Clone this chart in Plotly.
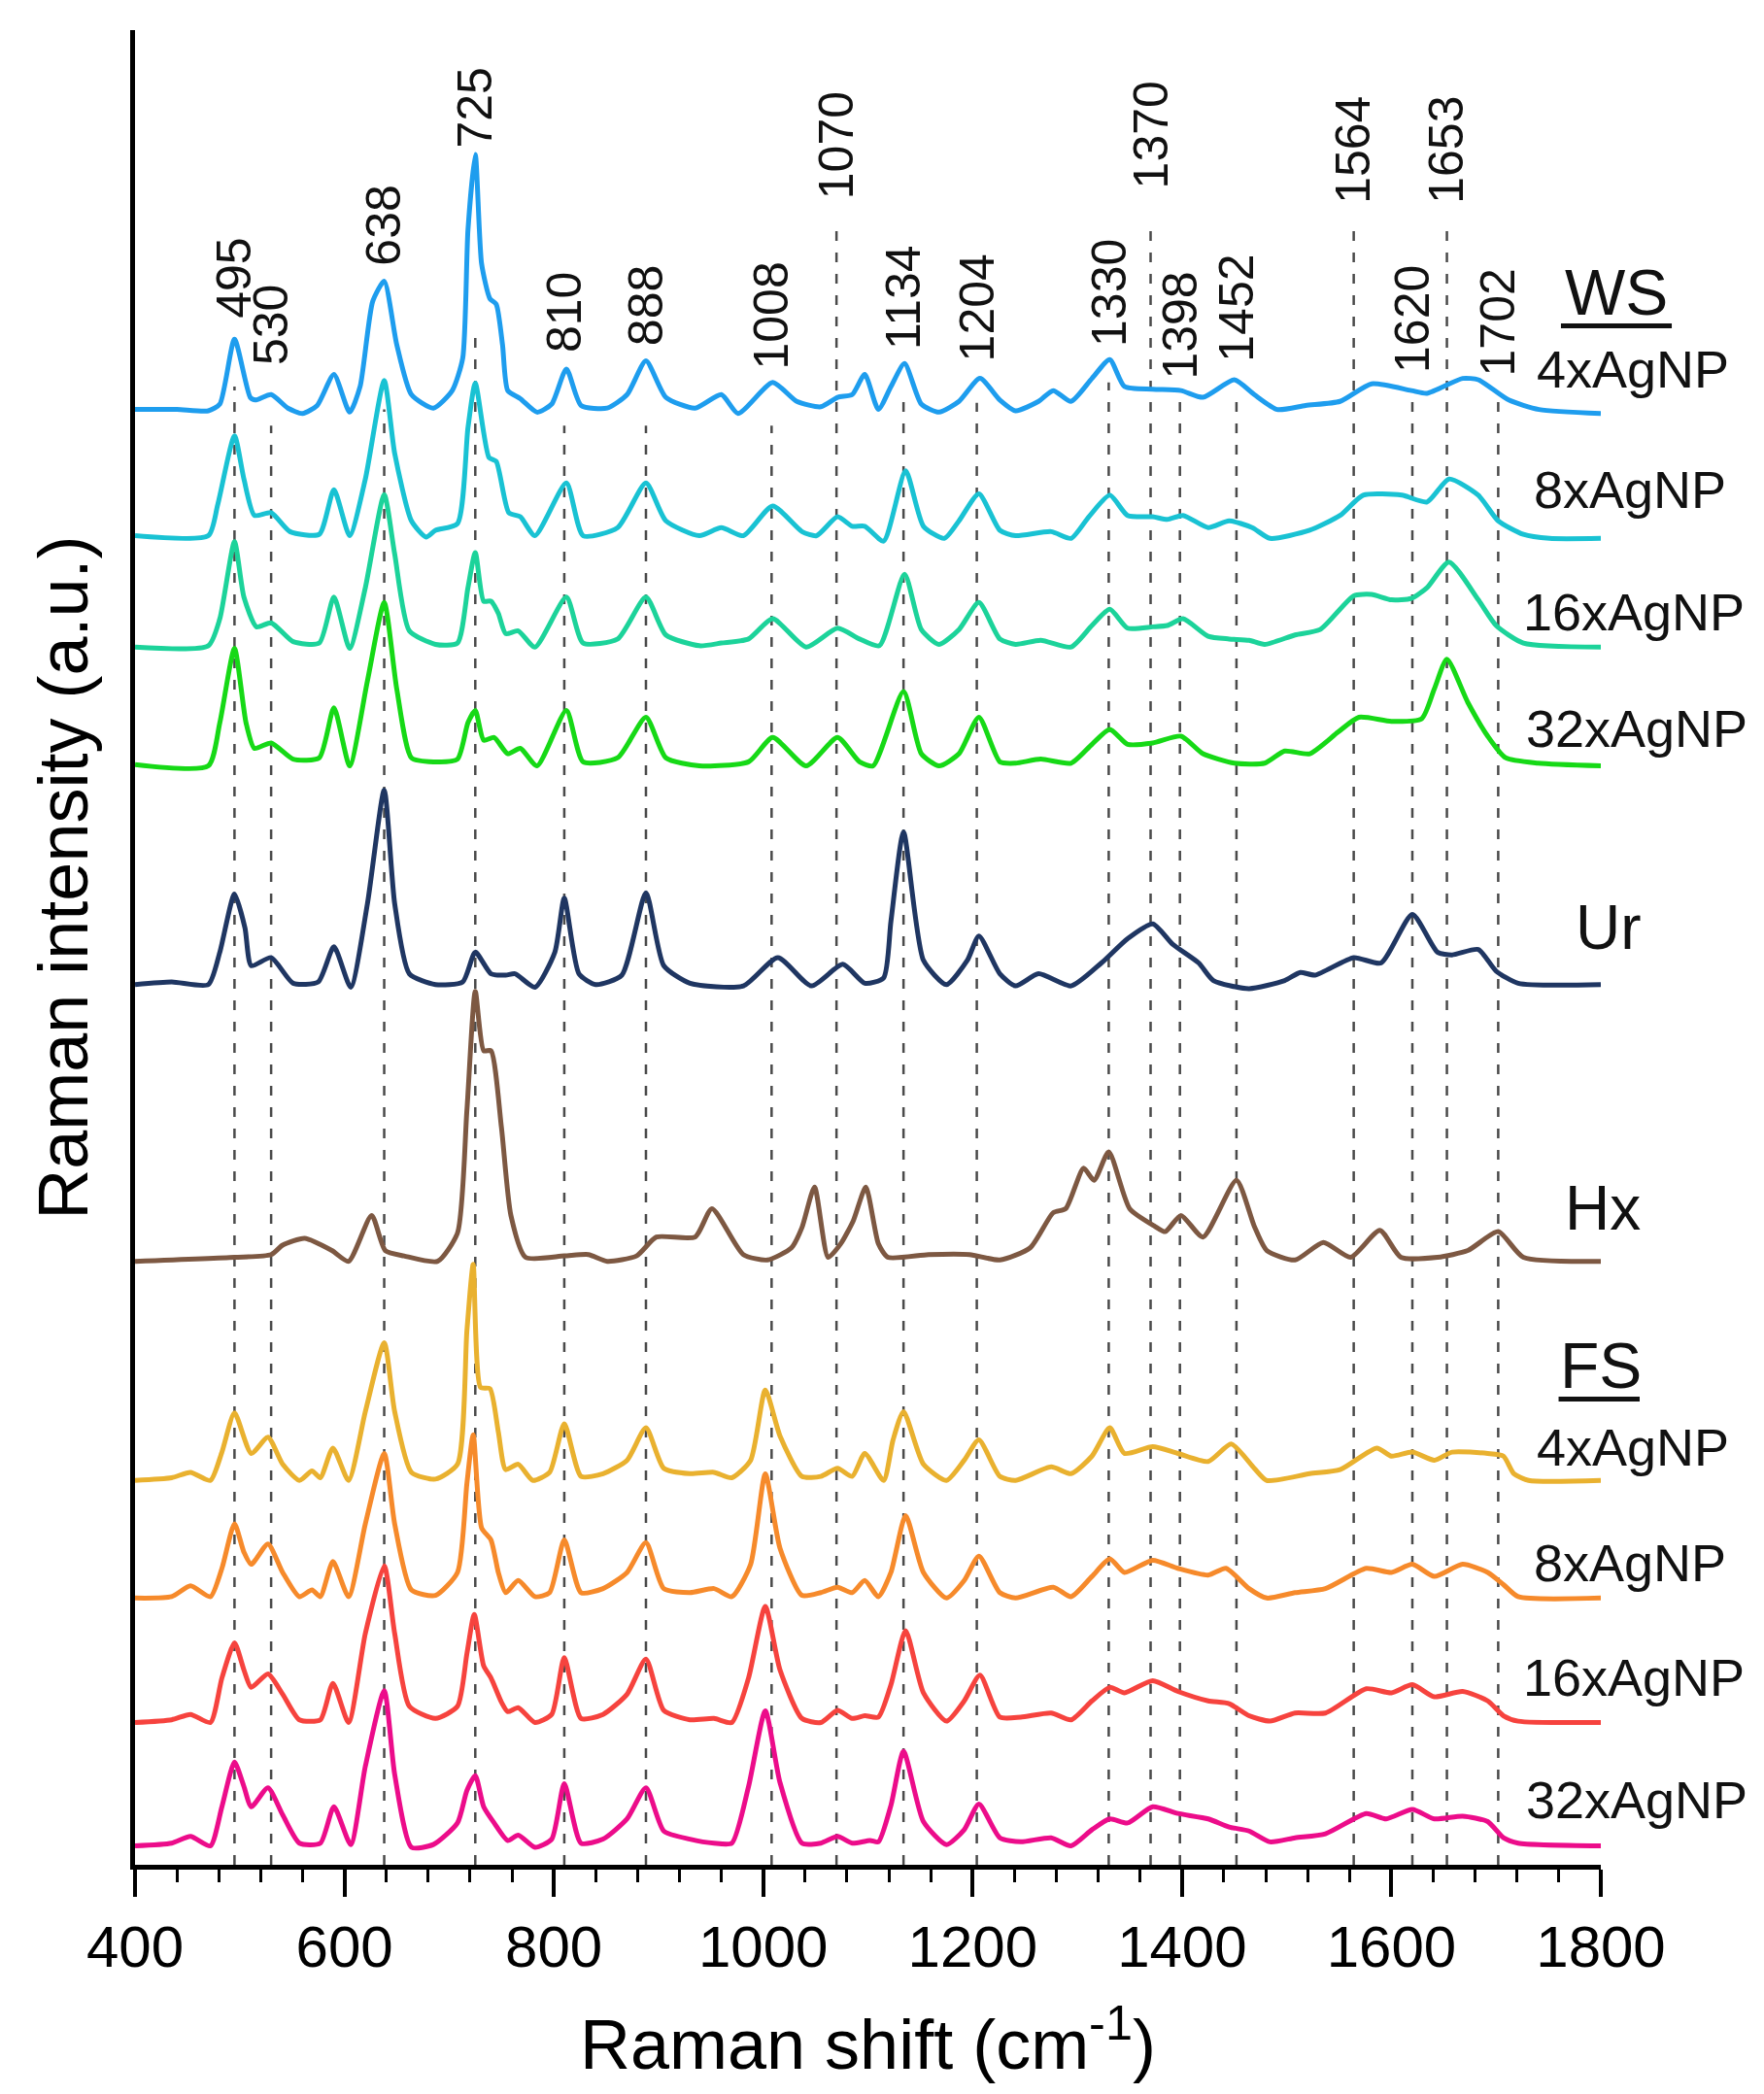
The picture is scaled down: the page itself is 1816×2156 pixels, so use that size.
import plotly.graph_objects as go

# ---- data (heights above each spectrum's own baseline, a.u.) ----
ws4_x = [400, 440, 470, 481, 495, 510, 515, 530, 546, 560, 574, 590, 605, 615, 627, 638, 650, 664, 685, 703, 713, 718, 725, 731, 739, 745, 751, 756, 768, 784, 798, 812, 826, 851, 870, 888, 907, 935, 960, 976, 1009, 1032, 1055, 1071, 1085, 1097, 1110, 1122, 1135, 1151, 1168, 1187, 1207, 1226, 1241, 1263, 1277, 1294, 1314, 1331, 1345, 1372, 1399, 1420, 1450, 1469, 1491, 1518, 1551, 1581, 1619, 1634, 1668, 1683, 1712, 1741, 1800]
ws4_y = [2, 2, 1, 6, 54, 11, 9, 13, 3, -1, 5, 28, 0, 19, 82, 97, 50, 13, 3, 16, 40, 135, 191, 110, 84, 80, 50, 16, 10, 0, 6, 32, 5, 3, 13, 38, 11, 3, 13, -1, 22, 8, 4, 11, 13, 28, 2, 19, 36, 6, 0, 8, 25, 9, 1, 8, 16, 8, 25, 39, 19, 17, 16, 11, 24, 13, 2, 5, 8, 21, 16, 14, 25, 24, 9, 2, -1]

ws8_x = [400, 470, 479, 495, 504, 514, 530, 548, 576, 590, 605, 620, 638, 648, 664, 678, 687, 708, 718, 725, 738, 745, 757, 768, 782, 812, 828, 861, 888, 907, 939, 960, 981, 1009, 1037, 1051, 1071, 1085, 1097, 1115, 1136, 1153, 1173, 1187, 1206, 1226, 1241, 1275, 1294, 1311, 1331, 1348, 1372, 1386, 1401, 1425, 1445, 1467, 1484, 1522, 1551, 1573, 1610, 1634, 1655, 1683, 1702, 1726, 1751, 1800]
ws8_y = [2, 2, 25, 76, 44, 17, 19, 5, 3, 36, 2, 44, 117, 63, 13, 1, 6, 11, 82, 115, 60, 57, 19, 16, 2, 41, 2, 8, 41, 13, 2, 8, 2, 24, 5, 2, 16, 9, 9, -2, 50, 9, 0, 13, 33, 6, 2, 5, 0, 16, 32, 17, 16, 14, 17, 8, 13, 8, 0, 6, 17, 32, 32, 27, 44, 32, 13, 3, 0, 0]

ws16_x = [400, 470, 481, 495, 504, 516, 530, 551, 576, 590, 605, 620, 638, 648, 662, 687, 708, 718, 725, 733, 740, 747, 754, 766, 782, 812, 828, 861, 888, 907, 939, 960, 986, 1009, 1041, 1071, 1092, 1111, 1135, 1151, 1168, 1187, 1206, 1226, 1241, 1265, 1294, 1314, 1331, 1348, 1372, 1386, 1401, 1425, 1445, 1464, 1479, 1508, 1532, 1564, 1581, 1600, 1619, 1634, 1655, 1683, 1700, 1726, 1800]
ws16_y = [0, 1, 21, 78, 37, 15, 18, 4, 3, 37, -1, 44, 113, 69, 12, 2, 3, 44, 70, 34, 34, 25, 10, 12, 0, 37, 3, 6, 37, 9, 1, 3, 6, 21, 0, 14, 6, 1, 54, 13, 2, 13, 33, 6, 2, 5, 0, 16, 28, 14, 15, 16, 21, 8, 6, 5, 2, 9, 13, 38, 39, 35, 36, 44, 63, 35, 16, 3, 0]

ws32_x = [400, 470, 481, 495, 506, 514, 530, 551, 576, 590, 605, 622, 638, 650, 664, 685, 708, 718, 725, 733, 743, 756, 768, 784, 812, 828, 861, 888, 907, 939, 986, 1009, 1041, 1071, 1092, 1105, 1134, 1151, 1168, 1187, 1206, 1226, 1241, 1265, 1294, 1314, 1331, 1348, 1372, 1399, 1420, 1450, 1479, 1498, 1522, 1549, 1569, 1600, 1629, 1641, 1653, 1673, 1692, 1709, 1740, 1800]
ws32_y = [1, 0, 32, 87, 32, 13, 17, 5, 6, 43, 0, 63, 121, 57, 6, 3, 5, 32, 41, 19, 21, 9, 13, 0, 41, 3, 6, 36, 6, 0, 3, 21, 0, 21, 3, 0, 55, 9, 0, 9, 36, 3, 2, 5, 2, 16, 27, 16, 17, 22, 9, 2, 2, 11, 9, 25, 36, 33, 35, 57, 79, 47, 22, 6, 2, 0]

ur_x = [400, 435, 470, 481, 495, 505, 511, 530, 551, 575, 590, 606, 622, 638, 648, 662, 687, 713, 725, 740, 754, 763, 782, 801, 810, 824, 840, 865, 888, 905, 930, 981, 1014, 1046, 1076, 1097, 1115, 1122, 1134, 1153, 1175, 1195, 1206, 1226, 1241, 1263, 1294, 1323, 1348, 1372, 1391, 1416, 1430, 1464, 1498, 1513, 1527, 1564, 1590, 1620, 1644, 1658, 1683, 1700, 1721, 1800]
ur_y = [0, 2, 0, 24, 67, 42, 14, 20, 1, 2, 28, -2, 60, 144, 60, 8, 0, 2, 24, 8, 7, 8, -2, 24, 64, 8, 0, 7, 68, 14, 1, -1, 20, -1, 15, 1, 5, 47, 113, 18, 0, 18, 36, 8, -1, 8, -1, 16, 34, 45, 30, 16, 3, -3, 3, 9, 7, 20, 16, 52, 24, 22, 26, 10, 1, 0]

hx_x = [400, 495, 530, 541, 562, 588, 604, 626, 639, 657, 689, 708, 717, 725, 733, 740, 750, 759, 773, 810, 833, 851, 879, 898, 935, 951, 981, 1004, 1027, 1037, 1049, 1062, 1074, 1086, 1098, 1110, 1119, 1158, 1197, 1226, 1255, 1277, 1289, 1306, 1316, 1330, 1350, 1374, 1384, 1399, 1420, 1452, 1469, 1481, 1508, 1535, 1561, 1589, 1609, 1644, 1673, 1702, 1726, 1800]
hx_y = [0, 3, 5, 12, 17, 8, 0, 34, 8, 4, 0, 21, 112, 200, 156, 156, 99, 34, 3, 4, 5, 0, 4, 18, 18, 39, 5, 1, 10, 25, 55, 3, 13, 30, 55, 13, 3, 5, 5, 1, 10, 36, 39, 69, 60, 81, 39, 26, 22, 34, 18, 60, 26, 8, 1, 14, 3, 23, 3, 3, 8, 22, 3, 0]

fs4_x = [400, 435, 453, 472, 483, 495, 511, 527, 541, 557, 569, 577, 589, 604, 620, 638, 648, 664, 687, 708, 717, 723, 730, 739, 747, 754, 766, 780, 796, 810, 826, 847, 870, 888, 905, 930, 953, 970, 988, 1002, 1016, 1037, 1055, 1071, 1085, 1097, 1115, 1124, 1134, 1153, 1175, 1192, 1206, 1226, 1241, 1275, 1294, 1314, 1331, 1345, 1372, 1396, 1425, 1447, 1469, 1481, 1522, 1551, 1586, 1600, 1620, 1641, 1658, 1692, 1707, 1717, 1731, 1800]
fs4_y = [0, 2, 6, 0, 21, 50, 20, 32, 12, 0, 7, 2, 24, 0, 51, 102, 51, 6, 1, 12, 111, 160, 69, 68, 36, 8, 12, 0, 6, 42, 3, 5, 15, 39, 9, 5, 6, 2, 15, 67, 33, 3, 3, 9, 3, 20, 0, 30, 51, 12, 0, 15, 30, 3, 0, 10, 5, 18, 39, 20, 25, 20, 14, 27, 9, 0, 5, 8, 24, 18, 21, 15, 21, 20, 18, 5, 0, 0]

fs8_x = [400, 435, 453, 472, 483, 495, 504, 511, 527, 541, 557, 569, 577, 589, 604, 620, 638, 648, 664, 687, 708, 717, 723, 731, 740, 747, 754, 766, 782, 796, 810, 826, 847, 870, 888, 905, 930, 953, 970, 988, 1002, 1016, 1037, 1055, 1071, 1085, 1097, 1110, 1122, 1136, 1153, 1175, 1192, 1206, 1226, 1241, 1277, 1294, 1314, 1331, 1345, 1372, 1396, 1425, 1442, 1464, 1481, 1508, 1537, 1576, 1600, 1620, 1641, 1668, 1692, 1707, 1721, 1800]
fs8_y = [0, 1, 9, 1, 22, 55, 34, 25, 40, 19, 1, 6, 1, 27, 1, 55, 107, 55, 6, 2, 19, 85, 121, 52, 43, 19, 4, 13, 1, 4, 43, 4, 7, 19, 41, 7, 4, 7, 1, 25, 92, 37, 2, 4, 8, 4, 13, 1, 19, 61, 19, 0, 13, 31, 4, 0, 8, 1, 16, 29, 19, 28, 22, 17, 22, 7, 0, 4, 7, 22, 19, 25, 16, 25, 19, 10, 1, 0]

fs16_x = [400, 435, 453, 472, 483, 495, 504, 511, 527, 541, 557, 577, 589, 604, 620, 638, 648, 662, 687, 708, 717, 724, 733, 740, 750, 756, 766, 782, 798, 810, 826, 847, 870, 888, 905, 930, 953, 970, 986, 1002, 1016, 1037, 1055, 1071, 1085, 1097, 1110, 1122, 1136, 1153, 1175, 1192, 1207, 1226, 1246, 1275, 1294, 1314, 1331, 1345, 1372, 1396, 1425, 1445, 1464, 1484, 1508, 1537, 1576, 1600, 1620, 1641, 1668, 1692, 1707, 1721, 1800]
fs16_y = [0, 2, 6, 0, 33, 59, 39, 26, 36, 21, 2, 2, 29, 0, 66, 116, 66, 12, 3, 12, 51, 80, 42, 33, 15, 8, 11, 0, 6, 48, 3, 6, 21, 47, 9, 2, 3, 0, 33, 86, 39, 3, 0, 9, 3, 5, 4, 28, 68, 22, 1, 16, 35, 4, 4, 7, 2, 16, 26, 22, 31, 23, 16, 14, 5, 1, 7, 7, 25, 22, 28, 19, 23, 16, 5, 1, 0]

fs32_x = [400, 435, 453, 472, 483, 495, 504, 511, 527, 541, 557, 577, 590, 606, 620, 638, 648, 664, 685, 708, 717, 725, 733, 743, 756, 766, 782, 798, 810, 826, 847, 870, 888, 905, 930, 953, 970, 986, 1002, 1016, 1037, 1055, 1071, 1085, 1102, 1110, 1122, 1134, 1153, 1175, 1192, 1206, 1226, 1246, 1275, 1294, 1314, 1331, 1348, 1372, 1396, 1425, 1445, 1464, 1484, 1508, 1537, 1576, 1595, 1620, 1641, 1668, 1692, 1707, 1721, 1800]
fs32_y = [0, 2, 7, 0, 29, 62, 44, 29, 43, 23, 2, 2, 29, 1, 59, 115, 53, -1, 1, 17, 41, 52, 29, 17, 4, 8, -1, 5, 46, 2, 5, 20, 43, 11, 5, 2, 2, 44, 100, 47, 2, 2, 7, 2, 4, 3, 30, 70, 18, 1, 12, 31, 6, 3, 6, 0, 12, 20, 17, 29, 24, 20, 14, 11, 3, 6, 9, 24, 20, 27, 20, 22, 18, 6, 2, 0]

# stacking offsets of each spectrum
offsets = [1076, 982.5, 902, 814, 652, 447, 284.7, 197.6, 105.4, 14]
colors = ["#1E9DEE", "#19C2D3", "#1CD39A", "#16D916", "#1F3662",
          "#7D5842", "#E9B12F", "#F68A2B", "#F6433E", "#EC0C8A"]

# marked bands
peaks = [495, 530, 638, 725, 810, 888, 1008, 1070, 1134, 1204,
         1330, 1370, 1398, 1452, 1564, 1620, 1653, 1702]

FONT = "Liberation Sans, Arial, sans-serif"

spectra = [
    (ws4_x, ws4_y), (ws8_x, ws8_y), (ws16_x, ws16_y), (ws32_x, ws32_y),
    (ur_x, ur_y), (hx_x, hx_y),
    (fs4_x, fs4_y), (fs8_x, fs8_y), (fs16_x, fs16_y), (fs32_x, fs32_y),
]

fig = go.Figure()

for (xs, ys), off, col in zip(spectra, offsets, colors):
    fig.add_trace(
        go.Scatter(
            x=xs,
            y=[off + v for v in ys],
            mode="lines",
            line=dict(color=col, width=5, shape="spline", smoothing=0.6),
            showlegend=False,
            hoverinfo="skip",
        )
    )

# dashed guide lines and band labels
line_top = [1095, 1066, 1078, 1133, 1066, 1066, 1066, 1217, 1088, 1083,
            1098, 1217, 1088, 1088, 1217, 1086, 1217, 1088]
label_base = [1144, 1109, 1183, 1270, 1119, 1124, 1106, 1232, 1121, 1112,
              1123, 1240, 1099, 1112, 1229, 1104, 1229, 1101]

for p, top, lb in zip(peaks, line_top, label_base):
    fig.add_shape(
        type="line", xref="x", yref="y",
        x0=p, x1=p, y0=0, y1=top,
        line=dict(color="#4a4a4a", width=2.5, dash="10px,12px"),
        layer="below",
    )
    fig.add_annotation(
        x=p, y=lb, xref="x", yref="y",
        text=str(p), textangle=-90,
        xanchor="center", yanchor="bottom",
        showarrow=False,
        font=dict(family=FONT, size=50, color="#111111"),
    )

# series labels on the right
side_labels = [
    ("WS", 1764, 1165, 66),
    ("4xAgNP", 1737, 1108, 54),
    ("8xAgNP", 1734, 1019, 54),
    ("16xAgNP", 1724, 928, 54),
    ("32xAgNP", 1727, 842, 54),
    ("Ur", 1774, 694, 64),
    ("Hx", 1764, 486, 64),
    ("FS", 1759, 370, 66),
    ("4xAgNP", 1737, 309, 54),
    ("8xAgNP", 1734, 224, 54),
    ("16xAgNP", 1724, 139, 54),
    ("32xAgNP", 1727, 48, 54),
]
for txt, lx, ly, fs in side_labels:
    fig.add_annotation(
        x=lx, y=ly, xref="x", yref="y",
        text=txt, xanchor="left", yanchor="middle",
        showarrow=False,
        font=dict(family=FONT, size=fs, color="#111111"),
    )

# underlines below the WS and FS group headings (paper refs so they
# are not clipped at the right edge of the axes)
for x0, x1, uy in [(0.9728, 1.0484, 0.8388), (0.9712, 1.0265, 0.2538)]:
    fig.add_shape(
        type="line", xref="paper", yref="paper",
        x0=x0, x1=x1, y0=uy, y1=uy,
        line=dict(color="#111111", width=5),
    )

# axis titles
fig.add_annotation(
    x=0.5, y=-0.095, xref="paper", yref="paper",
    text="Raman shift (cm<sup>-1</sup>)",
    xanchor="center", yanchor="middle", showarrow=False,
    font=dict(family=FONT, size=72, color="black"),
)
fig.add_annotation(
    x=-0.049, y=0.538, xref="paper", yref="paper",
    text="Raman intensity (a.u.)", textangle=-90,
    xanchor="center", yanchor="middle", showarrow=False,
    font=dict(family=FONT, size=72, color="black"),
)

fig.update_layout(
    width=1816,
    height=2156,
    autosize=False,
    margin=dict(l=131, r=176, t=23, b=244),
    paper_bgcolor="white",
    plot_bgcolor="white",
    font=dict(family=FONT, color="black"),
    xaxis=dict(
        range=[400, 1800],
        tick0=400,
        dtick=200,
        ticks="outside",
        ticklen=28,
        tickwidth=3.5,
        tickcolor="black",
        showline=True,
        linewidth=4.5,
        linecolor="black",
        showgrid=False,
        zeroline=False,
        tickfont=dict(family=FONT, size=60, color="black"),
        minor=dict(dtick=40, tick0=400, ticks="outside", ticklen=13,
                   tickwidth=3, tickcolor="black", showgrid=False),
    ),
    yaxis=dict(
        range=[0, 1359],
        showline=True,
        linewidth=4.5,
        linecolor="black",
        showticklabels=False,
        ticks="",
        showgrid=False,
        zeroline=False,
    ),
)

fig.write_html("out.html")
